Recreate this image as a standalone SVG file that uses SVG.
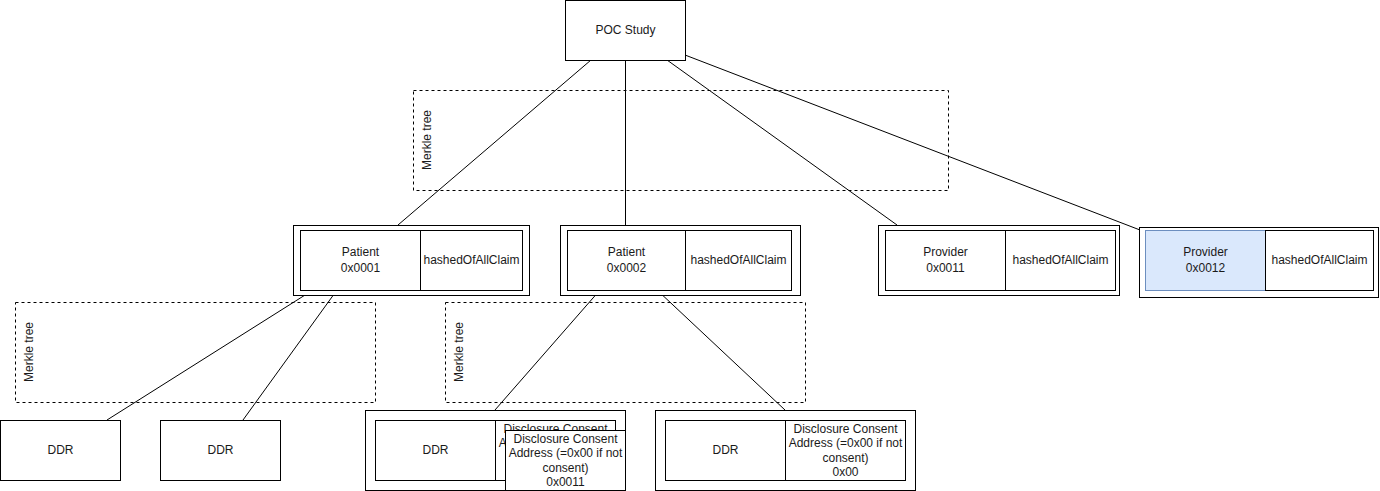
<svg xmlns="http://www.w3.org/2000/svg" width="1380" height="491" viewBox="0 0 1380 491">
<style>
rect{fill:#fff;stroke:#000;stroke-width:1}
.blue{fill:#dae8fc;stroke:#6c8ebf}
.dash{fill:none;stroke:#000;stroke-dasharray:3 3}
text{font-family:"Liberation Sans",Arial,sans-serif;font-size:12px;fill:#1a1a1a;text-anchor:middle}
.edge{stroke:#000;stroke-width:1;fill:none}
</style>
<rect x="0" y="0" width="1380" height="491" style="fill:#fff;stroke:none"/>
<g id="merkle-top"><rect class="dash" x="413.5" y="90.5" width="535" height="100"/><text transform="translate(431,140) rotate(-90)">Merkle tree</text></g>
<g id="merkle-left"><rect class="dash" x="15.5" y="302.5" width="360" height="100"/><text transform="translate(33,352) rotate(-90)">Merkle tree</text></g>
<g id="merkle-mid"><rect class="dash" x="445.5" y="302.5" width="360" height="100"/><text transform="translate(463,352) rotate(-90)">Merkle tree</text></g>
<g id="connectors">
<line class="edge" x1="591" y1="60" x2="398" y2="225"/>
<line class="edge" x1="625.5" y1="60" x2="625.5" y2="225"/>
<line class="edge" x1="667" y1="60" x2="897" y2="225"/>
<line class="edge" x1="685" y1="55" x2="1140" y2="230"/>
<line class="edge" x1="313" y1="290" x2="107" y2="420"/>
<line class="edge" x1="337" y1="290" x2="243" y2="420"/>
<line class="edge" x1="600" y1="290" x2="495" y2="410"/>
<line class="edge" x1="657" y1="290" x2="785" y2="410"/>
</g>
<g id="poc"><rect x="565.5" y="0.5" width="120" height="60"/><text x="625.5" y="34">POC Study</text></g>
<g id="patient1"><rect x="293.5" y="225.5" width="236" height="70"/><rect x="300.5" y="230.5" width="120" height="60"/><rect x="420.5" y="230.5" width="102" height="60"/><text x="360.5" y="256">Patient</text><text x="360.5" y="272">0x0001</text><text x="471.5" y="264">hashedOfAllClaim</text></g>
<g id="patient2"><rect x="560.5" y="225.5" width="240" height="70"/><rect x="567.5" y="230.5" width="118" height="60"/><rect x="685.5" y="230.5" width="106" height="60"/><text x="626.5" y="256">Patient</text><text x="626.5" y="272">0x0002</text><text x="738.5" y="264">hashedOfAllClaim</text></g>
<g id="provider1"><rect x="878.5" y="225.5" width="241" height="70"/><rect x="885.5" y="230.5" width="120" height="60"/><rect x="1005.5" y="230.5" width="110" height="60"/><text x="945.5" y="256">Provider</text><text x="945.5" y="272">0x0011</text><text x="1060.5" y="264">hashedOfAllClaim</text></g>
<g id="provider2"><rect x="1139.5" y="227.5" width="239" height="70"/><rect class="blue" x="1145.5" y="230.5" width="120" height="60"/><rect x="1265.5" y="230.5" width="108" height="60"/><text x="1205.5" y="256">Provider</text><text x="1205.5" y="272">0x0012</text><text x="1319.5" y="264">hashedOfAllClaim</text></g>
<g id="ddr1"><rect x="0.5" y="420.5" width="120" height="60"/><text x="60.5" y="454">DDR</text></g>
<g id="ddr2"><rect x="160.5" y="420.5" width="120" height="60"/><text x="220.5" y="454">DDR</text></g>
<g id="ddr3"><rect x="365.5" y="410.5" width="260" height="80"/><rect x="375.5" y="420.5" width="120" height="60"/><text x="435.5" y="454">DDR</text><rect x="495.5" y="420.5" width="120" height="60"/><text x="555.5" y="433">Disclosure Consent</text><text x="555.5" y="447">Address (=0x00 if not</text><text x="555.5" y="462">consent)</text><text x="555.5" y="476">0x00</text>
<rect x="505.5" y="430.5" width="120" height="60"/><text x="565.5" y="443">Disclosure Consent</text><text x="565.5" y="457">Address (=0x00 if not</text><text x="565.5" y="472">consent)</text><text x="565.5" y="486">0x0011</text></g>
<g id="ddr4"><rect x="655.5" y="410.5" width="260" height="80"/><rect x="665.5" y="420.5" width="120" height="60"/><text x="725.5" y="454">DDR</text><rect x="785.5" y="420.5" width="120" height="60"/><text x="845.5" y="433">Disclosure Consent</text><text x="845.5" y="447">Address (=0x00 if not</text><text x="845.5" y="462">consent)</text><text x="845.5" y="476">0x00</text></g>
</svg>
